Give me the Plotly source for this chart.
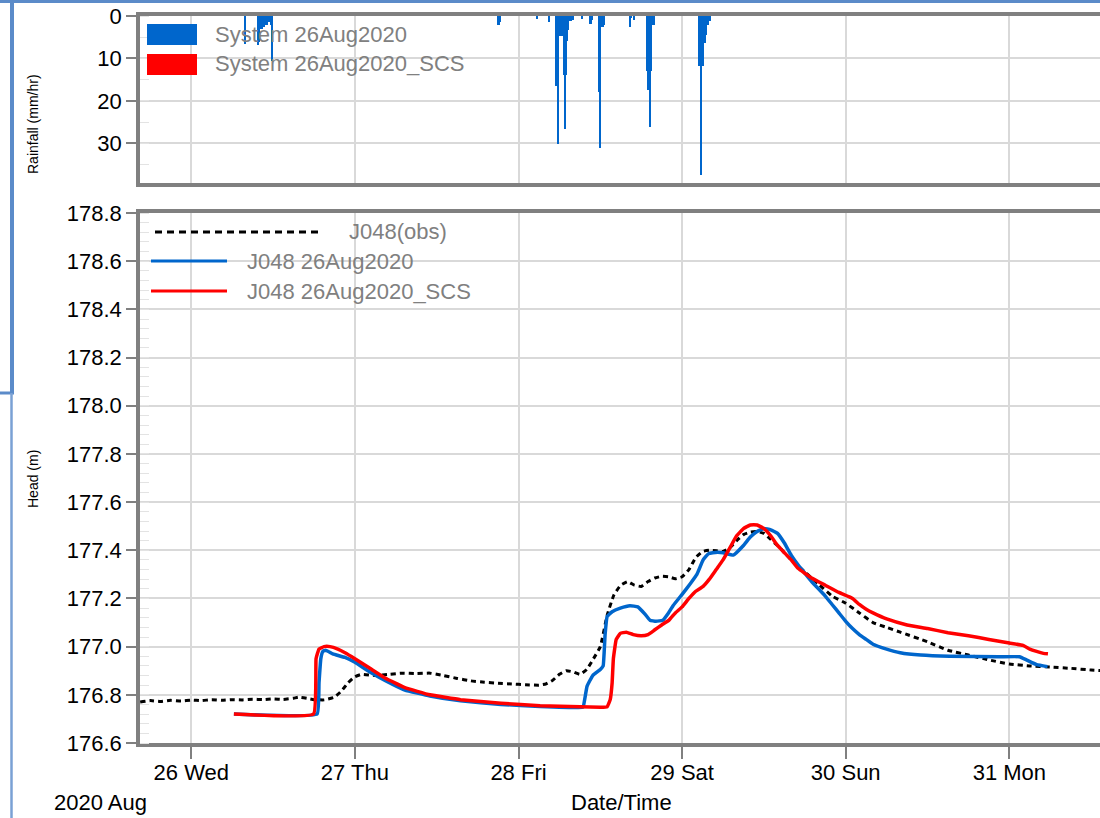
import plotly.graph_objects as go

# ---------------- data ----------------
rain_time = [
    "2020-08-26 07:50",
    "2020-08-26 09:50", "2020-08-26 10:00", "2020-08-26 10:10", "2020-08-26 10:20",
    "2020-08-26 10:30", "2020-08-26 10:40", "2020-08-26 10:50", "2020-08-26 11:00",
    "2020-08-26 11:10", "2020-08-26 11:20", "2020-08-26 11:30", "2020-08-26 11:40",
    "2020-08-26 11:50",
    "2020-08-27 21:00", "2020-08-27 21:10", "2020-08-27 21:20",
    "2020-08-28 02:40", "2020-08-28 04:30",
    "2020-08-28 05:30", "2020-08-28 05:40", "2020-08-28 05:50", "2020-08-28 06:00",
    "2020-08-28 06:10", "2020-08-28 06:20", "2020-08-28 06:30", "2020-08-28 06:40",
    "2020-08-28 06:50", "2020-08-28 07:00", "2020-08-28 07:10", "2020-08-28 07:20",
    "2020-08-28 07:30", "2020-08-28 07:40", "2020-08-28 07:50", "2020-08-28 08:00",
    "2020-08-28 09:20", "2020-08-28 10:30", "2020-08-28 10:40", "2020-08-28 10:50",
    "2020-08-28 11:50", "2020-08-28 12:00", "2020-08-28 12:10", "2020-08-28 12:20",
    "2020-08-28 12:30",
    "2020-08-28 16:20", "2020-08-28 16:30", "2020-08-28 17:00",
    "2020-08-28 18:50", "2020-08-28 19:00", "2020-08-28 19:10", "2020-08-28 19:20",
    "2020-08-28 19:30", "2020-08-28 19:40", "2020-08-28 19:50",
    "2020-08-29 02:30", "2020-08-29 02:40", "2020-08-29 02:50", "2020-08-29 03:00",
    "2020-08-29 03:10", "2020-08-29 03:20", "2020-08-29 03:30", "2020-08-29 03:40",
    "2020-08-29 03:50", "2020-08-29 04:00", "2020-08-29 04:10",
]
rain_mmhr = [
    6.7,
    6.9, 6.0, 3.0, 3.0,
    2.0, 2.5, 2.0, 2.0,
    2.0, 1.5, 1.5, 2.0,
    10.5,
    2.0, 2.0, 1.5,
    0.6, 1.5,
    16.5, 16.5, 30.2, 4.6,
    4.6, 4.6, 4.6, 14.0,
    26.7, 14.0, 5.9, 3.2,
    1.2, 1.2, 1.0, 1.0,
    0.8, 1.8, 1.8, 1.0,
    17.9, 31.0, 2.7, 2.7,
    2.0,
    2.7, 0.5, 1.0,
    13.0, 17.3, 17.3, 26.2,
    13.0, 2.0, 2.0,
    11.8, 11.8, 37.3, 11.8,
    6.3, 6.3, 4.4, 2.0,
    2.0, 1.2, 1.2,
]

obs_time = [
    "2020-08-25 16:30", "2020-08-25 18:00", "2020-08-25 19:30", "2020-08-25 21:00",
    "2020-08-25 22:30", "2020-08-26 00:00", "2020-08-26 01:30", "2020-08-26 03:00",
    "2020-08-26 04:30", "2020-08-26 06:00", "2020-08-26 07:30", "2020-08-26 09:00",
    "2020-08-26 10:30", "2020-08-26 12:00", "2020-08-26 13:30", "2020-08-26 15:00",
    "2020-08-26 15:45", "2020-08-26 17:00", "2020-08-26 18:00", "2020-08-26 19:30",
    "2020-08-26 21:00", "2020-08-26 22:00", "2020-08-26 23:00", "2020-08-27 00:00",
    "2020-08-27 01:00", "2020-08-27 03:00", "2020-08-27 05:00", "2020-08-27 07:00",
    "2020-08-27 09:00", "2020-08-27 11:00", "2020-08-27 13:00", "2020-08-27 15:00",
    "2020-08-27 17:00", "2020-08-27 19:00", "2020-08-27 21:00", "2020-08-27 23:00",
    "2020-08-28 01:00", "2020-08-28 03:00", "2020-08-28 04:00", "2020-08-28 05:00",
    "2020-08-28 06:00", "2020-08-28 07:00", "2020-08-28 08:00", "2020-08-28 09:00",
    "2020-08-28 10:00", "2020-08-28 11:00", "2020-08-28 12:00", "2020-08-28 13:00",
    "2020-08-28 14:00", "2020-08-28 15:00", "2020-08-28 16:00", "2020-08-28 17:00",
    "2020-08-28 18:00", "2020-08-28 19:00", "2020-08-28 20:00", "2020-08-28 21:00",
    "2020-08-28 22:00", "2020-08-28 23:00", "2020-08-29 00:00", "2020-08-29 01:00",
    "2020-08-29 02:00", "2020-08-29 03:00", "2020-08-29 04:00", "2020-08-29 05:00",
    "2020-08-29 06:00", "2020-08-29 07:00", "2020-08-29 08:00", "2020-08-29 09:00",
    "2020-08-29 10:00", "2020-08-29 11:00", "2020-08-29 12:00", "2020-08-29 13:00",
    "2020-08-29 14:00", "2020-08-29 15:00", "2020-08-29 16:00", "2020-08-29 17:00",
    "2020-08-29 18:00", "2020-08-29 20:00", "2020-08-29 22:00", "2020-08-30 00:00",
    "2020-08-30 02:00", "2020-08-30 04:00", "2020-08-30 06:00", "2020-08-30 08:00",
    "2020-08-30 12:00", "2020-08-30 15:00", "2020-08-30 18:00", "2020-08-30 21:00",
    "2020-08-31 00:00", "2020-08-31 03:00", "2020-08-31 06:00", "2020-08-31 09:00",
    "2020-08-31 12:00", "2020-08-31 14:00",
]
obs_head = [
    176.770, 176.776, 176.772, 176.777,
    176.774, 176.778, 176.776, 176.780,
    176.777, 176.780, 176.779, 176.782,
    176.780, 176.783, 176.781, 176.786,
    176.790, 176.785, 176.780, 176.779,
    176.790, 176.815, 176.850, 176.875,
    176.885, 176.880, 176.885, 176.890,
    176.888, 176.890, 176.880, 176.868,
    176.858, 176.852, 176.848, 176.845,
    176.842, 176.840, 176.845, 176.860,
    176.885, 176.900, 176.895, 176.885,
    176.905, 176.950, 177.000, 177.130,
    177.215, 177.255, 177.270, 177.255,
    177.250, 177.270, 177.285, 177.292,
    177.290, 177.282, 177.290, 177.320,
    177.370, 177.395, 177.400, 177.398,
    177.395, 177.410, 177.440, 177.465,
    177.475, 177.478, 177.470, 177.445,
    177.420, 177.390, 177.360, 177.335,
    177.310, 177.260, 177.210, 177.180,
    177.140, 177.100, 177.080, 177.060,
    177.020, 176.985, 176.965, 176.945,
    176.928, 176.920, 176.915, 176.910,
    176.903, 176.900,
]

base_time = [
    "2020-08-26 06:15", "2020-08-26 18:27", "2020-08-26 18:44", "2020-08-26 19:00",
    "2020-08-26 19:18", "2020-08-26 19:44", "2020-08-26 20:45", "2020-08-26 22:33",
    "2020-08-27 00:00", "2020-08-27 02:12", "2020-08-27 04:25", "2020-08-27 07:20",
    "2020-08-27 11:00", "2020-08-27 15:30", "2020-08-27 21:25", "2020-08-28 03:10",
    "2020-08-28 09:18", "2020-08-28 09:30", "2020-08-28 10:03", "2020-08-28 10:53",
    "2020-08-28 12:00", "2020-08-28 12:25", "2020-08-28 12:42", "2020-08-28 13:00",
    "2020-08-28 13:44", "2020-08-28 14:56", "2020-08-28 16:21", "2020-08-28 17:30",
    "2020-08-28 18:33", "2020-08-28 19:17", "2020-08-28 20:10", "2020-08-28 21:10",
    "2020-08-28 22:00", "2020-08-28 22:40", "2020-08-29 00:05", "2020-08-29 01:10",
    "2020-08-29 02:10", "2020-08-29 03:05", "2020-08-29 03:50", "2020-08-29 04:30",
    "2020-08-29 06:00", "2020-08-29 07:30", "2020-08-29 09:00", "2020-08-29 10:00",
    "2020-08-29 11:00", "2020-08-29 12:00", "2020-08-29 13:00", "2020-08-29 14:00",
    "2020-08-29 15:00", "2020-08-29 16:00", "2020-08-29 17:00", "2020-08-29 18:00",
    "2020-08-29 19:00", "2020-08-29 21:00", "2020-08-29 22:00", "2020-08-29 23:00",
    "2020-08-30 00:00", "2020-08-30 01:00", "2020-08-30 02:00", "2020-08-30 03:00",
    "2020-08-30 04:00", "2020-08-30 06:00", "2020-08-30 08:00", "2020-08-30 11:00",
    "2020-08-30 15:15", "2020-08-30 22:30", "2020-08-31 01:30", "2020-08-31 02:30",
    "2020-08-31 04:00", "2020-08-31 05:36",
]
base_head = [
    176.720, 176.720, 176.850, 176.950,
    176.980, 176.985, 176.970, 176.955,
    176.935, 176.895, 176.860, 176.820,
    176.795, 176.775, 176.760, 176.752,
    176.748, 176.750, 176.835, 176.880,
    176.905, 176.920, 177.050, 177.125,
    177.145, 177.160, 177.170, 177.165,
    177.135, 177.110, 177.105, 177.110,
    177.140, 177.170, 177.220, 177.260,
    177.300, 177.360, 177.385, 177.390,
    177.390, 177.380, 177.420, 177.455,
    177.478, 177.490, 177.485, 177.470,
    177.430, 177.380, 177.340, 177.305,
    177.270, 177.210, 177.175, 177.140,
    177.105, 177.075, 177.050, 177.030,
    177.010, 176.990, 176.975, 176.965,
    176.960, 176.958, 176.958, 176.945,
    176.925, 176.917,
]

scs_time = [
    "2020-08-26 06:15", "2020-08-26 17:56", "2020-08-26 18:18", "2020-08-26 18:44",
    "2020-08-26 19:28", "2020-08-26 20:21", "2020-08-26 21:30", "2020-08-26 22:33",
    "2020-08-27 00:00", "2020-08-27 02:12", "2020-08-27 04:25", "2020-08-27 07:20",
    "2020-08-27 11:00", "2020-08-27 15:30", "2020-08-27 21:25", "2020-08-28 03:10",
    "2020-08-28 12:00", "2020-08-28 13:00", "2020-08-28 13:27", "2020-08-28 13:44",
    "2020-08-28 13:55", "2020-08-28 14:20", "2020-08-28 14:56", "2020-08-28 15:48",
    "2020-08-28 16:50", "2020-08-28 18:00", "2020-08-28 19:00", "2020-08-28 20:00",
    "2020-08-28 21:00", "2020-08-28 22:05", "2020-08-28 23:00", "2020-08-29 00:00",
    "2020-08-29 01:00", "2020-08-29 02:00", "2020-08-29 03:05", "2020-08-29 04:00",
    "2020-08-29 05:00", "2020-08-29 06:00", "2020-08-29 07:00", "2020-08-29 08:00",
    "2020-08-29 09:00", "2020-08-29 10:00", "2020-08-29 11:00", "2020-08-29 12:00",
    "2020-08-29 13:00", "2020-08-29 14:00", "2020-08-29 15:00", "2020-08-29 16:00",
    "2020-08-29 17:00", "2020-08-29 19:00", "2020-08-29 21:00", "2020-08-29 23:00",
    "2020-08-30 01:00", "2020-08-30 02:00", "2020-08-30 03:00", "2020-08-30 04:00",
    "2020-08-30 06:00", "2020-08-30 09:00", "2020-08-30 12:00", "2020-08-30 15:00",
    "2020-08-30 18:00", "2020-08-30 21:00", "2020-08-31 00:00", "2020-08-31 02:00",
    "2020-08-31 03:00", "2020-08-31 04:00", "2020-08-31 05:00", "2020-08-31 05:40",
]
scs_head = [
    176.720, 176.720, 176.950, 176.990,
    177.000, 177.000, 176.990, 176.975,
    176.950, 176.910, 176.870, 176.830,
    176.800, 176.780, 176.765, 176.755,
    176.748, 176.750, 176.780, 176.850,
    176.950, 177.030, 177.055, 177.060,
    177.050, 177.045, 177.050, 177.070,
    177.090, 177.110, 177.140, 177.165,
    177.200, 177.230, 177.250, 177.280,
    177.320, 177.360, 177.410, 177.460,
    177.490, 177.505, 177.505, 177.490,
    177.460, 177.420, 177.390, 177.360,
    177.325, 177.285, 177.255, 177.225,
    177.200, 177.175, 177.155, 177.140,
    177.115, 177.090, 177.075, 177.058,
    177.045, 177.030, 177.015, 177.005,
    176.990, 176.980, 176.972, 176.970,
]

x_range = ["2020-08-25 16:28:30", "2020-08-31 13:18:00"]

# ---------------- layout geometry ----------------
W, H = 1100, 818
ML, MR, MT, MB = 140, 0, 16, 75
PW, PH = W - ML - MR, H - MT - MB


def px_x(px):
    return (px - ML) / PW


def px_y(py):
    return (H - MB - py) / PH


BLUE = "#0066cc"
RED = "#ff0000"
FRAME = "#808080"
GRID = "#d9d9d9"
FONT = "Liberation Sans, Arial, sans-serif"
FS = 22

fig = go.Figure()

fig.add_trace(go.Bar(
    x=rain_time, y=rain_mmhr, width=600000,
    marker=dict(color=BLUE, line=dict(width=0)),
    xaxis="x2", yaxis="y2", showlegend=False,
))

fig.add_trace(go.Scatter(
    x=obs_time, y=obs_head, mode="lines",
    line=dict(color="#000000", width=3, dash="5px,4px", shape="spline", smoothing=0.4),
    showlegend=False,
))
fig.add_trace(go.Scatter(
    x=base_time, y=base_head, mode="lines",
    line=dict(color=BLUE, width=3.5, shape="spline", smoothing=0.3),
    showlegend=False,
))
fig.add_trace(go.Scatter(
    x=scs_time, y=scs_head, mode="lines",
    line=dict(color=RED, width=3.5, shape="spline", smoothing=0.3),
    showlegend=False,
))

common_x = dict(
    type="date", range=x_range, dtick=86400000, tick0="2020-08-26",
    showgrid=True, gridcolor=GRID, gridwidth=2,
    showline=True, mirror=True, linecolor=FRAME, linewidth=3.5,
    zeroline=False,
)

fig.update_layout(
    width=W, height=H,
    margin=dict(l=ML, r=MR, t=MT, b=MB, pad=0),
    paper_bgcolor="white", plot_bgcolor="white",
    font=dict(family=FONT, color="#000000"),
    bargap=0,
    xaxis=dict(
        **common_x, anchor="y",
        tickformat="%d %a", ticks="outside", ticklen=12, tickwidth=1.5,
        tickcolor=FRAME, tickfont=dict(size=FS, color="#000000"),
        ticklabelstandoff=-5,
    ),
    xaxis2=dict(
        **common_x, anchor="y2", matches="x",
        showticklabels=False, ticks="",
    ),
    yaxis=dict(
        domain=[0, px_y(213)], range=[176.6, 178.8], dtick=0.2, tickformat=".1f",
        ticks="outside", ticklen=10, tickwidth=1.5, tickcolor=FRAME,
        tickfont=dict(size=FS, color="#000000"),
        showgrid=True, gridcolor=GRID, gridwidth=2,
        showline=True, linecolor=FRAME, linewidth=3.5, zeroline=False,
        minor=dict(ticks="inside", ticklen=9, tickwidth=1, tickcolor="#e3e3e3",
                   dtick=0.04, showgrid=False),
    ),
    yaxis2=dict(
        domain=[px_y(183), 1], range=[39.3, 0], dtick=10,
        ticks="outside", ticklen=10, tickwidth=1.5, tickcolor=FRAME,
        tickfont=dict(size=FS, color="#000000"),
        showgrid=True, gridcolor=GRID, gridwidth=2,
        showline=True, linecolor=FRAME, linewidth=3.5, zeroline=False,
        minor=dict(ticks="inside", ticklen=9, tickwidth=1, tickcolor="#e3e3e3",
                   dtick=5, showgrid=False),
    ),
)

shapes = []
annotations = []

# rainfall legend
shapes.append(dict(type="rect", xref="paper", yref="paper",
                   x0=px_x(147), x1=px_x(197), y0=px_y(45), y1=px_y(24),
                   fillcolor=BLUE, line=dict(width=0)))
shapes.append(dict(type="rect", xref="paper", yref="paper",
                   x0=px_x(147), x1=px_x(197), y0=px_y(75), y1=px_y(54),
                   fillcolor=RED, line=dict(width=0)))
for label, py in [("System 26Aug2020", 34), ("System 26Aug2020_SCS", 64)]:
    annotations.append(dict(text=label, xref="paper", yref="paper",
                            x=px_x(213), y=px_y(py), xanchor="left", yanchor="middle",
                            showarrow=False, font=dict(size=FS, color=FRAME)))

# head legend
shapes.append(dict(type="line", xref="paper", yref="paper",
                   x0=px_x(155), x1=px_x(320), y0=px_y(232), y1=px_y(232),
                   line=dict(color="#000000", width=3, dash="7px,5px")))
shapes.append(dict(type="line", xref="paper", yref="paper",
                   x0=px_x(151), x1=px_x(227), y0=px_y(261), y1=px_y(261),
                   line=dict(color=BLUE, width=3)))
shapes.append(dict(type="line", xref="paper", yref="paper",
                   x0=px_x(151), x1=px_x(227), y0=px_y(291), y1=px_y(291),
                   line=dict(color=RED, width=3)))
for label, x0, py in [("J048(obs)", 347, 232), ("J048 26Aug2020", 245, 261),
                      ("J048 26Aug2020_SCS", 245, 291)]:
    annotations.append(dict(text=label, xref="paper", yref="paper",
                            x=px_x(x0), y=px_y(py), xanchor="left", yanchor="middle",
                            showarrow=False, font=dict(size=FS, color=FRAME)))

# axis titles and date caption
annotations.append(dict(text="Rainfall (mm/hr)", xref="paper", yref="paper",
                        x=px_x(33), y=px_y(124), textangle=-90, showarrow=False,
                        xanchor="center", yanchor="middle", font=dict(size=14)))
annotations.append(dict(text="Head (m)", xref="paper", yref="paper",
                        x=px_x(33), y=px_y(479), textangle=-90, showarrow=False,
                        xanchor="center", yanchor="middle", font=dict(size=14)))
annotations.append(dict(text="2020 Aug", xref="paper", yref="paper",
                        x=px_x(100), y=px_y(802), showarrow=False,
                        xanchor="center", yanchor="middle", font=dict(size=FS)))
annotations.append(dict(text="Date/Time", xref="paper", yref="paper",
                        x=px_x(621), y=px_y(802), showarrow=False,
                        xanchor="center", yanchor="middle", font=dict(size=FS)))

# window border
BORDER = "#5b8bc9"
shapes.append(dict(type="line", xref="paper", yref="paper",
                   x0=px_x(0), x1=px_x(1100), y0=px_y(1.5), y1=px_y(1.5),
                   line=dict(color=BORDER, width=3)))
shapes.append(dict(type="line", xref="paper", yref="paper",
                   x0=px_x(12), x1=px_x(12), y0=px_y(0), y1=px_y(394),
                   line=dict(color=BORDER, width=4)))
shapes.append(dict(type="line", xref="paper", yref="paper",
                   x0=px_x(0), x1=px_x(14), y0=px_y(393), y1=px_y(393),
                   line=dict(color=BORDER, width=3)))
shapes.append(dict(type="line", xref="paper", yref="paper",
                   x0=px_x(11.5), x1=px_x(11.5), y0=px_y(393), y1=px_y(818),
                   line=dict(color="#7aa1d4", width=2.5)))

fig.update_layout(shapes=shapes, annotations=annotations)

fig.write_html(
    "out.html",
    config={"displayModeBar": False},
    post_script="document.body.style.margin='0';document.body.style.overflow='hidden';",
)
